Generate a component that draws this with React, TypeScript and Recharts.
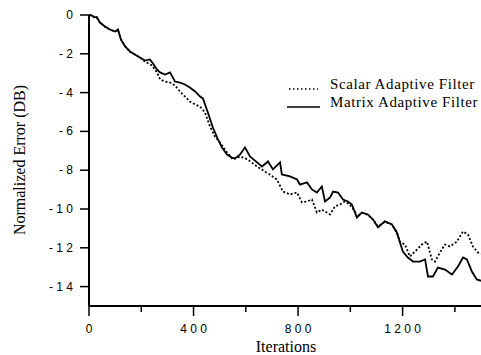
import { LineChart, Line, XAxis, YAxis } from "recharts";

// iterations / normalized error (dB)
const scalarIter = [0, 10, 20, 30, 42, 61, 80, 100, 111, 122, 138, 157, 176, 195, 214, 241, 260, 272, 291, 310, 329, 348, 367, 386, 406, 425, 444, 463, 482, 501, 528, 551, 578, 608, 643, 673, 692, 719, 742, 769, 796, 815, 834, 853, 872, 891, 922, 941, 960, 979, 998, 1018, 1025, 1044, 1067, 1087, 1106, 1132, 1159, 1178, 1190, 1209, 1228, 1255, 1274, 1293, 1312, 1324, 1343, 1362, 1381, 1408, 1431, 1450, 1469, 1488, 1500];
const scalarErr = [0, -0.05, -0.1, -0.15, -0.4, -0.6, -0.75, -0.85, -0.78, -1.25, -1.6, -1.9, -2.05, -2.2, -2.4, -2.6, -2.96, -3.32, -3.43, -3.48, -3.63, -3.94, -4.2, -4.46, -4.61, -4.72, -5.03, -5.75, -6.26, -6.57, -7.09, -7.45, -7.29, -7.45, -7.81, -8.07, -8.22, -8.48, -9.1, -9.25, -9.15, -9.66, -9.61, -9.51, -10.18, -10.03, -10.28, -9.87, -9.77, -9.61, -9.77, -10.13, -10.4, -10.2, -10.3, -10.55, -10.9, -10.66, -10.8, -11.2, -11.7, -11.83, -12.45, -12.09, -11.83, -11.68, -12.6, -12.71, -12.24, -11.83, -11.93, -11.68, -11.16, -11.31, -11.93, -12.24, -12.3];

const matrixIter = [0, 10, 20, 30, 42, 61, 80, 100, 111, 122, 138, 157, 176, 195, 214, 233, 245, 260, 272, 291, 310, 329, 348, 367, 386, 406, 425, 436, 455, 474, 494, 509, 528, 547, 559, 578, 597, 616, 643, 662, 685, 704, 731, 738, 769, 796, 807, 834, 853, 872, 891, 903, 922, 934, 953, 972, 991, 1006, 1025, 1044, 1067, 1087, 1106, 1132, 1159, 1178, 1190, 1201, 1220, 1240, 1266, 1286, 1297, 1316, 1335, 1362, 1389, 1412, 1431, 1446, 1465, 1484, 1500];
const matrixErr = [0, -0.02, -0.12, -0.1, -0.39, -0.59, -0.75, -0.85, -0.75, -1.26, -1.62, -1.88, -2.04, -2.19, -2.35, -2.29, -2.5, -2.81, -2.96, -3.07, -2.96, -3.43, -3.48, -3.58, -3.74, -3.94, -4.2, -4.3, -5.03, -5.8, -6.42, -6.83, -7.19, -7.35, -7.4, -7.19, -6.83, -7.29, -7.6, -7.81, -7.55, -7.96, -7.6, -8.22, -8.32, -8.48, -8.74, -8.63, -8.99, -9.15, -8.84, -9.61, -9.41, -9.1, -9.15, -9.51, -9.61, -9.77, -10.44, -10.18, -10.28, -10.54, -10.95, -10.64, -10.8, -11.21, -11.73, -12.19, -12.5, -12.71, -12.71, -12.6, -13.48, -13.48, -13.02, -13.12, -13.38, -12.96, -12.5, -12.6, -13.22, -13.63, -13.7];

const xTicks = [0, 200, 400, 600, 800, 1000, 1200, 1400];
const yTicks = [0, -2, -4, -6, -8, -10, -12, -14];

const scalarData = scalarIter.map((it, i) => ({ it, err: scalarErr[i] }));
const matrixData = matrixIter.map((it, i) => ({ it, err: matrixErr[i] }));

const sans = "'Liberation Sans', Arial, sans-serif";
const serif = "'Liberation Serif', 'Times New Roman', serif";

// "-10" -> "- 1 0", like the typewriter-spaced labels of the original
const spaced = (v: number) => {
  if (v === 0) return "0";
  const s = String(Math.abs(v)).split("").join(" ");
  return v < 0 ? "- " + s : s;
};

const XTick = (props: any) => {
  const { x, y, payload } = props;
  const major = payload.value % 400 === 0;
  return (
    <g>
      <line x1={x} x2={x} y1={y} y2={y + (major ? 10 : 6)} stroke="#000" strokeWidth={1.5} />
      {major && (
        <text x={x} y={y + 27} textAnchor="middle" fontFamily={sans} fontSize={12} fill="#000">
          {spaced(payload.value)}
        </text>
      )}
    </g>
  );
};

const YTick = (props: any) => {
  const { x, y, payload } = props;
  return (
    <g>
      <line x1={x - 9} x2={x} y1={y} y2={y} stroke="#000" strokeWidth={1.5} />
      <text x={x - 16} y={y + 4} textAnchor="end" fontFamily={sans} fontSize={12} fill="#000">
        {spaced(payload.value)}
      </text>
    </g>
  );
};

export default function App() {
  return (
    <div style={{ position: "absolute", left: 0, top: 0, width: 481, height: 355, background: "#fff" }}>
      <LineChart width={481} height={355} margin={{ top: 15, right: 0, bottom: 0, left: 0 }}>
        <XAxis
          dataKey="it"
          type="number"
          domain={[0, 1500]}
          ticks={xTicks}
          height={49}
          tickSize={0}
          tickMargin={0}
          tickLine={false}
          tick={<XTick />}
          axisLine={{ stroke: "#000", strokeWidth: 2 }}
          allowDuplicatedCategory={false}
        />
        <YAxis
          type="number"
          domain={[-15, 0]}
          ticks={yTicks}
          width={89}
          tickSize={0}
          tickMargin={0}
          tickLine={false}
          tick={<YTick />}
          axisLine={{ stroke: "#000", strokeWidth: 2 }}
        />
        <Line data={scalarData} dataKey="err" type="linear" stroke="#000" strokeWidth={1.8} strokeDasharray="2 2" dot={false} isAnimationActive={false} />
        <Line data={matrixData} dataKey="err" type="linear" stroke="#000" strokeWidth={1.8} dot={false} isAnimationActive={false} />
      </LineChart>
      <svg width={481} height={355} style={{ position: "absolute", left: 0, top: 0, pointerEvents: "none" }}>
        <text
          transform="translate(25,160) rotate(-90)"
          textAnchor="middle"
          fontFamily={serif}
          fontSize={16}
          fill="#000"
        >
          Normalized Error (DB)
        </text>
        <text x={286} y={352} textAnchor="middle" fontFamily={serif} fontSize={16} fill="#000">
          Iterations
        </text>
        <line x1={289} x2={318} y1={89} y2={89} stroke="#000" strokeWidth={1.5} strokeDasharray="1.5 2.5" />
        <line x1={287} x2={320} y1={107} y2={107} stroke="#000" strokeWidth={1.3} />
        <text x={330} y={89} fontFamily={serif} fontSize={15} letterSpacing={0.6} fill="#000">
          Scalar Adaptive Filter
        </text>
        <text x={330} y={107} fontFamily={serif} fontSize={15} letterSpacing={0.6} fill="#000">
          Matrix Adaptive Filter
        </text>
      </svg>
    </div>
  );
}
